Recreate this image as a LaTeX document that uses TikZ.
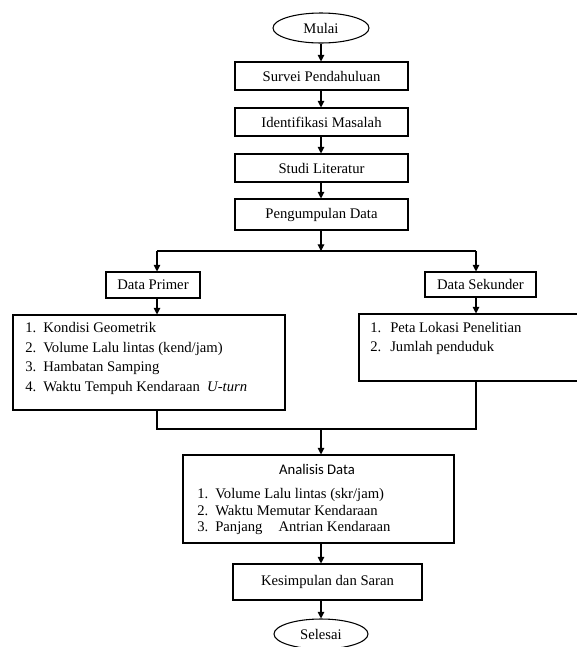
\documentclass[tikz,border=0pt]{standalone}
\usepackage{fontspec}
\setmainfont{Liberation Serif}
\newfontfamily\calib{Carlito}
\usetikzlibrary{arrows.meta,shapes.geometric}
\begin{document}
\begin{tikzpicture}[x=0.75pt,y=-0.75pt,
  box/.style={draw,line width=0.8pt,inner sep=0pt,font=\fontsize{11}{13}\selectfont},
  term/.style={draw,ellipse,line width=0.8pt,inner sep=0pt,font=\fontsize{11}{13}\selectfont},
  arr/.style={line width=0.8pt,-{Triangle[width=5pt,length=5pt]}},
  ln/.style={line width=0.8pt},
  item/.style={anchor=base west,inner sep=0pt,font=\fontsize{11}{13}\selectfont},
  num/.style={anchor=base west,inner sep=0pt,font=\fontsize{11}{13}\selectfont}]
\useasboundingbox[fill=white] (0,0) rectangle (576,647);

% terminals and boxes
\node[term,minimum width=72pt,minimum height=22.5pt] (mulai) at (321,28) {Mulai};
\node[box,minimum width=129.75pt,minimum height=21pt] (survei) at (321.5,76) {Survei Pendahuluan};
\node[box,minimum width=129.75pt,minimum height=21pt] (ident) at (321.5,122) {Identifikasi Masalah};
\node[box,minimum width=129.75pt,minimum height=21pt] (studi) at (321.5,168) {Studi Literatur};
\node[box,minimum width=129.75pt,minimum height=23.25pt] (kumpul) at (321.5,214.5) {Pengumpulan Data};
\node[box,minimum width=70.5pt,minimum height=19.5pt] (primer) at (153,285) {Data Primer};
\node[box,minimum width=83.25pt,minimum height=18.75pt] (sekunder) at (480.5,284.5) {Data Sekunder};
\node[box,minimum width=204pt,minimum height=71.25pt] (listL) at (149,362.5) {};
\node[box,minimum width=166.5pt,minimum height=50.25pt] (listR) at (470,347.5) {};
\node[box,minimum width=203.25pt,minimum height=66pt] (analisis) at (318.5,499) {};
\node[box,minimum width=141.75pt,minimum height=27pt] (kesimpulan) at (327.5,582) {Kesimpulan dan Saran};
\node[term,minimum width=70.5pt,minimum height=22.5pt] (selesai) at (321,634) {Selesai};

% list texts
\node[num] (l1n) at (25,332) {1.};
\node[item] (l1) at (43,332) {Kondisi Geometrik};
\node[num] (l2n) at (25,352) {2.};
\node[item] (l2) at (43,352) {Volume Lalu lintas (kend/jam)};
\node[num] (l3n) at (25,371) {3.};
\node[item] (l3) at (43,371) {Hambatan Samping};
\node[num] (l4n) at (25,391) {4.};
\node[item] (l4) at (43,391) {Waktu Tempuh Kendaraan\ \ \textit{U-turn}};

\node[num] (r1n) at (370,332) {1.};
\node[item] (r1) at (390,332) {Peta Lokasi Penelitian};
\node[num] (r2n) at (370,351) {2.};
\node[item] (r2) at (390,351) {Jumlah penduduk};

\node[inner sep=0pt,anchor=base,font=\calib\fontsize{11}{13}\selectfont] (atitle) at (317,474) {Analisis Data};
\node[num] (a1n) at (197,498) {1.};
\node[item] (a1) at (215,498) {Volume Lalu lintas (skr/jam)};
\node[num] (a2n) at (197,515) {2.};
\node[item] (a2) at (215,515) {Waktu Memutar Kendaraan};
\node[num] (a3n) at (197,531) {3.};
\node[item] (a3) at (215,531) {Panjang\hspace{12pt}Antrian Kendaraan};

% helper coordinates
\coordinate (split) at (321,251);
\coordinate (sl) at (157,251);
\coordinate (sr) at (476,251);
\coordinate (ml) at (157,429);
\coordinate (mr) at (476,429);
\coordinate (merge) at (321,429);

% connectors
\draw[arr] (mulai.south) -- (mulai.south |- survei.north);
\draw[arr] (survei.south -| mulai.south) -- (mulai.south |- ident.north);
\draw[arr] (ident.south -| mulai.south) -- (mulai.south |- studi.north);
\draw[arr] (studi.south -| mulai.south) -- (mulai.south |- kumpul.north);
\draw[arr] (kumpul.south -| split) -- (split);
\draw[ln] (sl) -- (sr);
\draw[arr] (sl) -- (sl |- primer.north);
\draw[arr] (sr) -- (sr |- sekunder.north);
\draw[arr] (primer.south -| sl) -- (sl |- listL.north);
\draw[arr] (sekunder.south -| sr) -- (sr |- listR.north);
\draw[ln] (listL.south -| ml) -- (ml) -- (mr) -- (listR.south -| mr);
\draw[arr] (merge) -- (merge |- analisis.north);
\draw[arr] (analisis.south -| merge) -- (merge |- kesimpulan.north);
\draw[arr] (kesimpulan.south -| merge) -- (selesai.north);
\end{tikzpicture}
\end{document}
